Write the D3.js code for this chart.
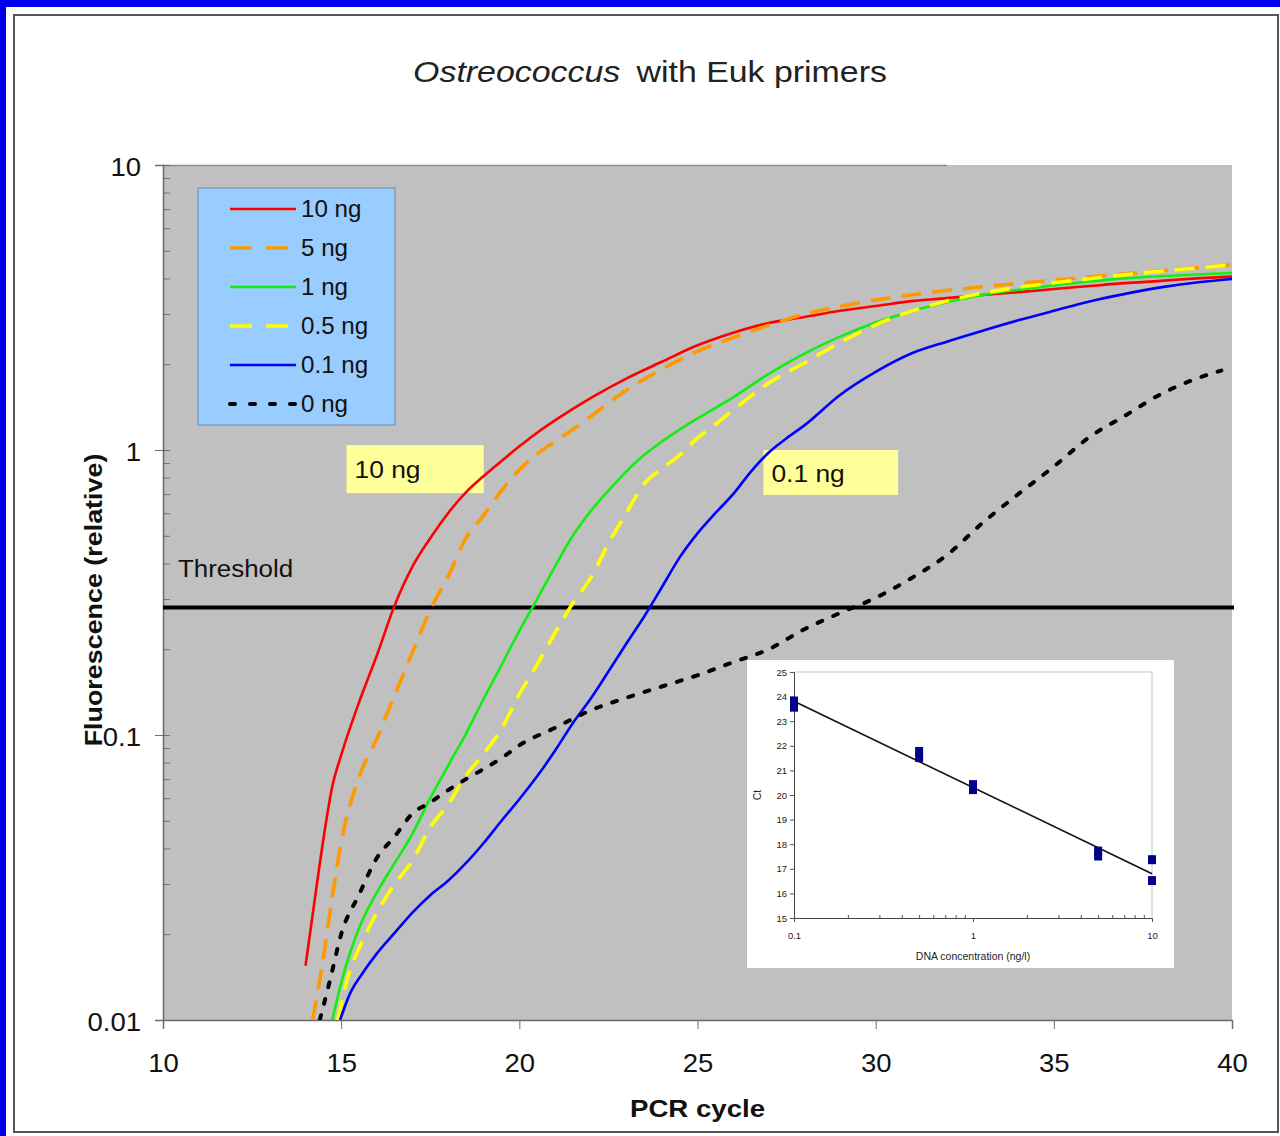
<!DOCTYPE html>
<html>
<head>
<meta charset="utf-8">
<script src="https://cdn.jsdelivr.net/npm/d3@7/dist/d3.min.js"></script>
<style>
  body { margin: 0; background: #fff; }
  svg { display: block; font-family: "Liberation Sans", Arial, sans-serif; }
</style>
</head>
<body>
<svg id="chart" width="1280" height="1136"></svg>
<script>
// ---- data ----
var cyc10 = [14, 14.25, 14.5, 14.75, 15, 15.5, 16, 16.5, 17, 17.5, 18, 18.5, 19, 19.5, 20, 20.5, 21, 22, 23, 24, 25, 26, 27, 28, 29, 30, 31, 32, 33, 34, 35, 36, 37, 38, 39, 40];
var fl10  = [0.0155, 0.026, 0.043, 0.066, 0.085, 0.13, 0.19, 0.285, 0.39, 0.49, 0.60, 0.71, 0.81, 0.915, 1.03, 1.15, 1.27, 1.52, 1.78, 2.04, 2.33, 2.58, 2.79, 2.93, 3.08, 3.20, 3.33, 3.41, 3.50, 3.58, 3.67, 3.76, 3.85, 3.92, 4.0, 4.06];

var cyc5 = [14.2, 14.5, 14.75, 15, 15.5, 16, 16.5, 17, 17.5, 18, 18.5, 19, 19.5, 20, 20.5, 21, 21.5, 22, 23, 24, 25, 26, 27, 28, 29, 30, 31, 32, 33, 34, 35, 36, 37, 38, 39, 40];
var fl5  = [0.010, 0.0165, 0.027, 0.042, 0.071, 0.097, 0.138, 0.195, 0.275, 0.36, 0.49, 0.59, 0.72, 0.85, 0.97, 1.07, 1.18, 1.31, 1.62, 1.92, 2.22, 2.48, 2.74, 3.0, 3.19, 3.36, 3.5, 3.63, 3.74, 3.84, 3.94, 4.05, 4.15, 4.25, 4.36, 4.46];

var cyc1 = [14.75, 15, 15.5, 16, 16.5, 17, 17.5, 18, 18.5, 19, 19.5, 20, 20.5, 21, 21.5, 22, 22.5, 23, 23.5, 24, 24.5, 25, 26, 27, 28, 29, 30, 31, 32, 33, 34, 35, 36, 37, 38, 39, 40];
var fl1  = [0.010, 0.0135, 0.021, 0.028, 0.0355, 0.045, 0.060, 0.078, 0.101, 0.134, 0.176, 0.232, 0.30, 0.39, 0.50, 0.61, 0.72, 0.84, 0.96, 1.07, 1.18, 1.29, 1.53, 1.85, 2.18, 2.5, 2.8, 3.07, 3.3, 3.5, 3.65, 3.78, 3.9, 4.0, 4.07, 4.13, 4.18];

var cyc05 = [14.9, 15.25, 15.5, 16, 16.5, 17, 17.5, 18, 18.5, 19, 19.5, 20, 20.5, 21, 21.5, 22, 22.5, 23, 23.5, 24, 24.5, 25, 25.5, 26, 27, 28, 29, 30, 31, 32, 33, 34, 35, 36, 37, 38, 39, 40];
var fl05  = [0.010, 0.015, 0.0178, 0.0238, 0.030, 0.0362, 0.0475, 0.057, 0.072, 0.086, 0.105, 0.139, 0.177, 0.228, 0.29, 0.355, 0.47, 0.60, 0.76, 0.86, 0.96, 1.10, 1.23, 1.38, 1.72, 2.02, 2.38, 2.75, 3.07, 3.33, 3.55, 3.72, 3.86, 3.99, 4.12, 4.24, 4.35, 4.46];

var cyc01 = [14.97, 15.25, 15.6, 16, 16.5, 17, 17.5, 18, 18.5, 19, 19.5, 20, 20.5, 21, 21.5, 22, 22.5, 23, 23.5, 24, 24.5, 25, 25.5, 26, 26.5, 27, 27.5, 28, 29, 30, 31, 32, 33, 34, 35, 36, 37, 38, 39, 40];
var fl01  = [0.010, 0.0124, 0.0146, 0.0171, 0.0202, 0.0238, 0.0274, 0.0308, 0.0355, 0.0418, 0.050, 0.0595, 0.0716, 0.088, 0.110, 0.134, 0.167, 0.209, 0.26, 0.33, 0.42, 0.51, 0.60, 0.70, 0.84, 0.98, 1.10, 1.22, 1.56, 1.88, 2.18, 2.40, 2.62, 2.85, 3.08, 3.32, 3.53, 3.72, 3.87, 3.98];

var cyc0 = [14.4, 14.7, 15, 15.5, 16, 16.5, 17, 17.5, 18, 18.5, 19, 19.5, 20, 21, 22, 23, 24, 25, 26, 27, 28, 29, 30, 31, 32, 33, 34, 35, 36, 37, 38, 39, 39.7];
var fl0  = [0.010, 0.014, 0.020, 0.0275, 0.037, 0.044, 0.053, 0.058, 0.064, 0.070, 0.076, 0.083, 0.092, 0.106, 0.122, 0.135, 0.148, 0.162, 0.18, 0.20, 0.235, 0.268, 0.303, 0.355, 0.428, 0.555, 0.70, 0.875, 1.11, 1.32, 1.57, 1.78, 1.9];

var seriesNames  = ["10 ng", "5 ng", "1 ng", "0.5 ng", "0.1 ng", "0 ng"];
var seriesColors = ["#ff0000", "#ff9900", "#11ee11", "#ffff00", "#0000ff", "#000000"];
var seriesDash   = [null, "20,11", null, "20,11", null, "5,12"];
var seriesWidth  = [2.6, 3.6, 2.6, 3.6, 2.6, 4];
var seriesX = [cyc10, cyc5, cyc1, cyc05, cyc01, cyc0];
var seriesY = [fl10, fl5, fl1, fl05, fl01, fl0];

var xTicks = [10, 15, 20, 25, 30, 35, 40];
var yTicks = [0.01, 0.1, 1, 10];
var threshold = 0.28;

// curve labels (cycle / fluorescence box corners)
var boxLabels = [
  {text: "10 ng",  x0: 15.15, x1: 19.0,  y0: 1.04, y1: 0.706},
  {text: "0.1 ng", x0: 26.85, x1: 30.63, y0: 1.0,  y1: 0.695}
];

// inset: Ct vs DNA concentration
var insetConc = [0.1, 0.1, 0.5, 0.5, 1, 1, 5, 5, 10, 10];
var insetCt   = [23.55, 23.8, 21.5, 21.75, 20.2, 20.4, 17.5, 17.7, 17.35, 16.5];
var insetYTicks = [15, 16, 17, 18, 19, 20, 21, 22, 23, 24, 25];

// ---- drawing ----
var svg = d3.select("#chart");

// text is a little wider in the original, stretch it along its baseline
function wideText(parent, px, py, k, rot) {
  return parent.append("text")
      .attr("transform", "translate(" + px + "," + py + ")" + (rot ? " rotate(" + rot + ")" : "") + " scale(" + k + ",1)");
}

// slide frame
svg.append("rect").attr("x", 0).attr("y", 0).attr("width", 1280).attr("height", 7).attr("fill", "#0000ee");
svg.append("rect").attr("x", 0).attr("y", 0).attr("width", 6).attr("height", 1136).attr("fill", "#0000ee");
svg.append("rect").attr("x", 14).attr("y", 15).attr("width", 1264).attr("height", 1117)
    .attr("fill", "none").attr("stroke", "#555").attr("stroke-width", 2);

var margin = {top: 165, right: 48, bottom: 116, left: 163},
    width = 1280 - margin.left - margin.right,
    height = 1136 - margin.top - margin.bottom;

var g = svg.append("g").attr("transform", "translate(" + margin.left + "," + margin.top + ")");

var x = d3.scaleLinear().domain([10, 40]).range([0, width]);
var y = d3.scaleLog().domain([0.01, 10]).range([height, 0]);

// plot background
g.append("rect").attr("width", width).attr("height", height).attr("fill", "#c0c0c0");
g.append("line").attr("x1", 0).attr("x2", x(32)).attr("y1", 0.5).attr("y2", 0.5)
    .attr("stroke", "#8c8c8c").attr("stroke-width", 1.5);

// y axis: major labels + minor ticks
var minorTicks = [];
[0.01, 0.1, 1].forEach(function(d) {
  for (var k = 1; k <= 10; k++) minorTicks.push(d * k);
});

var yMinor = d3.axisRight(y).tickValues(minorTicks).tickSize(7).tickFormat("");
var yMinorG = g.append("g").call(yMinor);
yMinorG.select(".domain").remove();
yMinorG.selectAll("line").attr("stroke", "#707070");

var yAxis = d3.axisLeft(y).tickValues(yTicks).tickSize(8).tickPadding(12)
    .tickFormat(function(d) { return d >= 1 ? d3.format("d")(d) : String(d); });
var yAxisG = g.append("g").call(yAxis);
yAxisG.select(".domain").attr("stroke", "#6a6a6a").attr("stroke-width", 1.5);
yAxisG.selectAll("line").attr("stroke", "#707070");
yAxisG.selectAll("text").attr("font-size", 25).attr("fill", "#111").attr("dy", "0.42em")
    .attr("font-family", "Liberation Sans, Arial, sans-serif")
    .attr("transform", "scale(1.1,1)");

var xAxis = d3.axisBottom(x).tickValues(xTicks).tickSize(9).tickPadding(25);
var xAxisG = g.append("g").attr("transform", "translate(0," + height + ")").call(xAxis);
xAxisG.select(".domain").attr("stroke", "#6a6a6a").attr("stroke-width", 1.5);
xAxisG.selectAll("line").attr("stroke", "#707070");
xAxisG.selectAll("text").attr("font-size", 25).attr("fill", "#111")
    .attr("font-family", "Liberation Sans, Arial, sans-serif")
    .attr("transform", "scale(1.1,1)");

// axis titles
wideText(svg, margin.left + x(25), 1117, 1.15)
    .attr("text-anchor", "middle").attr("font-size", 24).attr("font-weight", "bold").attr("fill", "#111")
    .text("PCR cycle");
wideText(svg, 102, 600, 1.12, -90)
    .attr("text-anchor", "middle").attr("font-size", 24).attr("font-weight", "bold").attr("fill", "#111")
    .text("Fluorescence (relative)");

// title
var title = wideText(svg, 650, 82, 1.13).attr("text-anchor", "middle")
    .attr("font-size", 30).attr("fill", "#222");
title.append("tspan").attr("font-style", "italic").text("Ostreococcus");
title.append("tspan").attr("dx", 6).text(" with Euk primers");

// threshold
g.append("line").attr("x1", x(10)).attr("x2", x(40) + 2)
    .attr("y1", y(threshold)).attr("y2", y(threshold))
    .attr("stroke", "#000").attr("stroke-width", 4);
wideText(g, x(10.42), y(threshold) - 31, 1.08)
    .attr("font-size", 24).attr("fill", "#111").text("Threshold");

// curve label boxes (under the curves)
boxLabels.forEach(function(b) {
  g.append("rect").attr("x", x(b.x0)).attr("y", y(b.y0))
      .attr("width", x(b.x1) - x(b.x0)).attr("height", y(b.y1) - y(b.y0))
      .attr("fill", "#ffff99");
  wideText(g, x(b.x0) + 8, (y(b.y0) + y(b.y1)) / 2 + 9, 1.1)
      .attr("font-size", 24).attr("fill", "#111").text(b.text);
});

// clip curves to plot area
svg.append("defs").append("clipPath").attr("id", "plotClip")
  .append("rect").attr("x", -2).attr("y", -2).attr("width", width + 6).attr("height", height + 2);

var line = d3.line()
    .x(function(d) { return x(d[0]); })
    .y(function(d) { return y(d[1]); })
    .curve(d3.curveMonotoneX);

var curves = g.append("g").attr("clip-path", "url(#plotClip)");
seriesNames.forEach(function(name, i) {
  var pts = seriesX[i].map(function(c, j) { return [c, seriesY[i][j]]; });
  curves.append("path")
      .datum(pts)
      .attr("fill", "none")
      .attr("stroke", seriesColors[i])
      .attr("stroke-width", seriesWidth[i])
      .attr("stroke-dasharray", seriesDash[i])
      .attr("stroke-linecap", i === 5 ? "round" : "butt")
      .attr("d", line);
});

// legend
var legend = g.append("g").attr("transform", "translate(35,23)");
legend.append("rect").attr("width", 197).attr("height", 237)
    .attr("fill", "#99ccff").attr("stroke", "#7f9fbf").attr("stroke-width", 1.5);
var rows = legend.selectAll("g.row").data(seriesNames).enter().append("g")
    .attr("class", "row")
    .attr("transform", function(d, i) { return "translate(0," + (21 + i * 39) + ")"; });
rows.append("line").attr("x1", 32).attr("x2", 98)
    .attr("stroke", function(d, i) { return seriesColors[i]; })
    .attr("stroke-width", function(d, i) { return i === 5 ? 4 : (i % 2 ? 3.5 : 2.6); })
    .attr("stroke-dasharray", function(d, i) { return i === 5 ? "5,15" : (i % 2 ? "22,14" : null); })
    .attr("stroke-linecap", function(d, i) { return i === 5 ? "round" : "butt"; });
rows.append("text").attr("transform", "translate(103,8) scale(1.05,1)")
    .attr("font-size", 23).attr("fill", "#111").text(function(d) { return d; });

// ---- inset ----
var inset = svg.append("g").attr("transform", "translate(747,660)");
inset.append("rect").attr("width", 427).attr("height", 308).attr("fill", "#fff");

var im = {left: 47, top: 12, w: 358, h: 246};
var ig = inset.append("g").attr("transform", "translate(" + im.left + "," + im.top + ")");
var ix = d3.scaleLog().domain([0.1, 10]).range([0, im.w]);
var iy = d3.scaleLinear().domain([15, 25]).range([im.h, 0]);

ig.append("line").attr("x1", 0).attr("x2", im.w).attr("y1", 0).attr("y2", 0).attr("stroke", "#c8c8c8");
ig.append("line").attr("x1", im.w).attr("x2", im.w).attr("y1", 0).attr("y2", im.h).attr("stroke", "#c8c8c8");

var iyAxisG = ig.append("g").call(d3.axisLeft(iy).tickValues(insetYTicks).tickSize(4).tickPadding(3));
var ixMinor = [];
[0.1, 1].forEach(function(d) { for (var k = 2; k <= 9; k++) ixMinor.push(d * k); });
var ixMinorG = ig.append("g").attr("transform", "translate(0," + im.h + ")")
    .call(d3.axisBottom(ix).tickValues(ixMinor).tickSize(-3).tickFormat(""));
ixMinorG.select(".domain").remove();
var ixAxisG = ig.append("g").attr("transform", "translate(0," + im.h + ")")
    .call(d3.axisBottom(ix).tickValues([0.1, 1, 10]).tickSize(4).tickPadding(10)
      .tickFormat(function(d) { return String(d); }));
[iyAxisG, ixAxisG, ixMinorG].forEach(function(a) {
  a.selectAll("line").attr("stroke", "#555");
  a.select(".domain").attr("stroke", "#444");
  a.selectAll("text").attr("font-size", 9.5).attr("fill", "#222")
      .attr("font-family", "Liberation Sans, Arial, sans-serif");
});

// least-squares line through the inset points
var lx = insetConc.map(function(c) { return Math.log10(c); });
var mx = d3.mean(lx), my = d3.mean(insetCt);
var slope = d3.sum(lx, function(v, i) { return (v - mx) * (insetCt[i] - my); }) /
            d3.sum(lx, function(v) { return (v - mx) * (v - mx); });
var icpt = my - slope * mx;
ig.append("line")
    .attr("x1", ix(0.1)).attr("y1", iy(icpt + slope * -1))
    .attr("x2", ix(10)).attr("y2", iy(icpt + slope * 1))
    .attr("stroke", "#111").attr("stroke-width", 1.6);

ig.selectAll("rect.pt").data(insetConc).enter().append("rect")
    .attr("class", "pt")
    .attr("x", function(d) { return ix(d) - 4; })
    .attr("y", function(d, i) { return iy(insetCt[i]) - 5; })
    .attr("width", 8).attr("height", 9)
    .attr("fill", "#00008b");

inset.append("text").attr("x", im.left + im.w / 2).attr("y", 300)
    .attr("text-anchor", "middle").attr("font-size", 10.5).attr("fill", "#222")
    .text("DNA concentration (ng/l)");
inset.append("text").attr("transform", "translate(14," + (im.top + iy(20)) + ") rotate(-90)")
    .attr("text-anchor", "middle").attr("font-size", 10.5).attr("fill", "#222")
    .text("Ct");
</script>
</body>
</html>
